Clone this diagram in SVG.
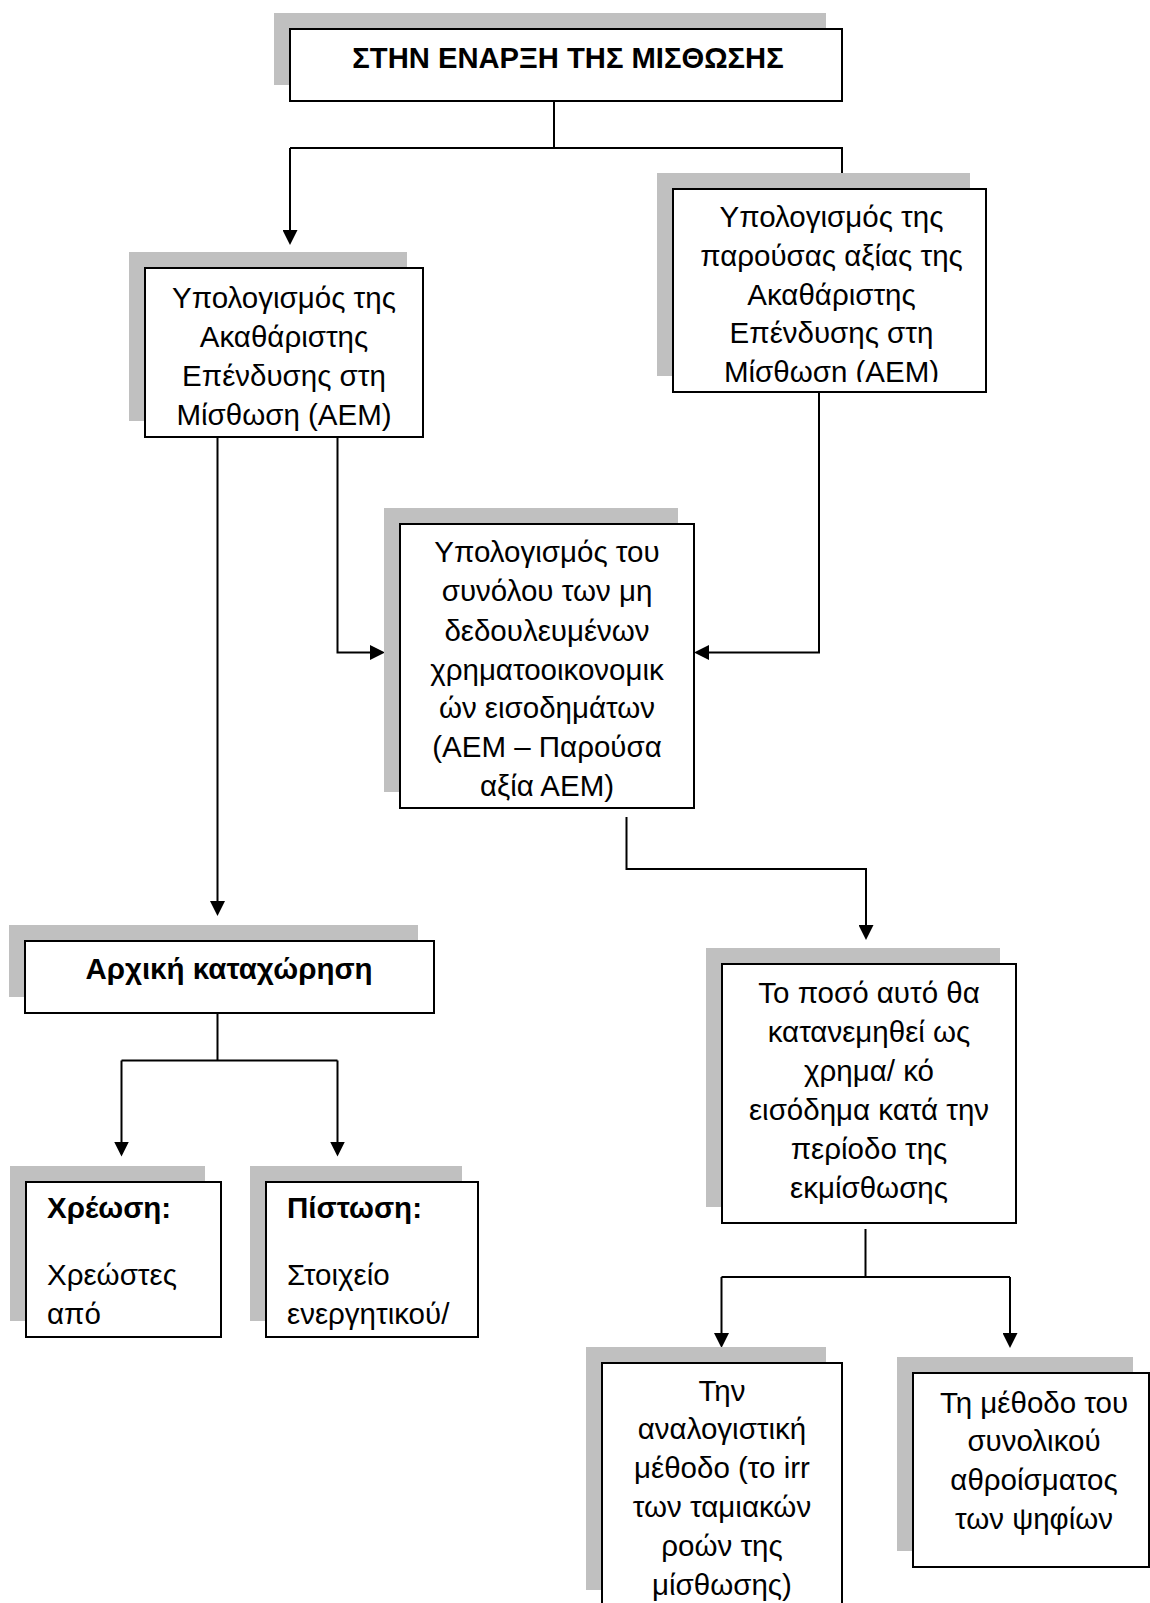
<svg xmlns="http://www.w3.org/2000/svg" width="1150" height="1603" viewBox="0 0 1150 1603">
<defs>
<marker id="arr" viewBox="0 0 15 15" refX="12" refY="7.5" markerWidth="15" markerHeight="15" markerUnits="userSpaceOnUse" orient="auto">
<path d="M0,0 L15,7.5 L0,15 z" fill="#000"/>
</marker>
<clipPath id="clipN3"><rect x="673" y="189" width="313" height="193"/></clipPath>
</defs>
<style>
.sh{fill:#c0c0c0;stroke:none}
.bx{fill:#fff;stroke:#000;stroke-width:2}
.t{font-family:"Liberation Sans",Arial,sans-serif;font-size:29.5px;fill:#000}
.c{text-anchor:middle}
.b{font-weight:bold}
.ln{fill:none;stroke:#000;stroke-width:2}
</style>
<rect width="1150" height="1603" fill="#fff"/>

<g id="connectors">
<path class="ln" d="M554,101 V148 M290,148 H842 V189"/>
<path class="ln" d="M290,148 V242" marker-end="url(#arr)"/>
<path class="ln" d="M217.5,437 V913" marker-end="url(#arr)"/>
<path class="ln" d="M337.5,437 V652.5 H382" marker-end="url(#arr)"/>
<path class="ln" d="M819,392 V652.5 H697" marker-end="url(#arr)"/>
<path class="ln" d="M626.5,817 V869 H866 V937" marker-end="url(#arr)"/>
<path class="ln" d="M217.5,1013 V1060.5 M121.5,1060.5 H337.5"/>
<path class="ln" d="M121.5,1060.5 V1153.5" marker-end="url(#arr)"/>
<path class="ln" d="M337.5,1060.5 V1153.5" marker-end="url(#arr)"/>
<path class="ln" d="M865.5,1229 V1277 M721.5,1277 H1010"/>
<path class="ln" d="M721.5,1277 V1345" marker-end="url(#arr)"/>
<path class="ln" d="M1010,1277 V1345" marker-end="url(#arr)"/>
</g>

<g id="n1">
<rect class="sh" x="274" y="13" width="552" height="72"/>
<rect class="bx" x="290" y="29" width="552" height="72"/>
<text class="t c b" x="568" y="68" style="font-size:29.2px">ΣΤΗΝ ΕΝΑΡΞΗ ΤΗΣ ΜΙΣΘΩΣΗΣ</text>
</g>

<g id="n2">
<rect class="sh" x="129" y="252" width="278" height="169"/>
<rect class="bx" x="145" y="268" width="278" height="169"/>
<text class="t c" x="284" y="308">Υπολογισμός της</text>
<text class="t c" x="284" y="346.9">Ακαθάριστης</text>
<text class="t c" x="284" y="385.8">Επένδυσης στη</text>
<text class="t c" x="284" y="424.7">Μίσθωση (ΑΕΜ)</text>
</g>

<g id="n3">
<rect class="sh" x="657" y="173" width="313" height="203"/>
<rect class="bx" x="673" y="189" width="313" height="203"/>
<g clip-path="url(#clipN3)">
<text class="t c" x="831.5" y="226.7">Υπολογισμός της</text>
<text class="t c" x="831.5" y="265.6">παρούσας αξίας της</text>
<text class="t c" x="831.5" y="304.5">Ακαθάριστης</text>
<text class="t c" x="831.5" y="343.4">Επένδυσης στη</text>
<text class="t c" x="831.5" y="382">Μίσθωση (ΑΕΜ)</text>
</g>
</g>

<g id="n4">
<rect class="sh" x="384" y="508" width="294" height="284"/>
<rect class="bx" x="400" y="524" width="294" height="284"/>
<text class="t c" x="547" y="562.3">Υπολογισμός του</text>
<text class="t c" x="547" y="601.4">συνόλου των μη</text>
<text class="t c" x="547" y="640.5">δεδουλευμένων</text>
<text class="t c" x="547" y="679.5">χρηματοοικονομικ</text>
<text class="t c" x="547" y="718.4">ών εισοδημάτων</text>
<text class="t c" x="547" y="757">(ΑΕΜ – Παρούσα</text>
<text class="t c" x="547" y="795.7">αξία ΑΕΜ)</text>
</g>

<g id="n5">
<rect class="sh" x="9" y="925" width="409" height="72"/>
<rect class="bx" x="25" y="941" width="409" height="72"/>
<text class="t c b" x="229" y="979">Αρχική καταχώρηση</text>
</g>

<g id="n6">
<rect class="sh" x="10" y="1166" width="195" height="155"/>
<rect class="bx" x="26" y="1182" width="195" height="155"/>
<text class="t b" x="47" y="1218">Χρέωση:</text>
<text class="t" x="47" y="1285">Χρεώστες</text>
<text class="t" x="47" y="1323.5">από</text>
</g>

<g id="n7">
<rect class="sh" x="250" y="1166" width="212" height="155"/>
<rect class="bx" x="266" y="1182" width="212" height="155"/>
<text class="t b" x="287" y="1218">Πίστωση:</text>
<text class="t" x="287" y="1285">Στοιχείο</text>
<text class="t" x="287" y="1323.5">ενεργητικού/</text>
</g>

<g id="n8">
<rect class="sh" x="706" y="948" width="294" height="259"/>
<rect class="bx" x="722" y="964" width="294" height="259"/>
<text class="t c" x="869" y="1003">Το ποσό αυτό θα</text>
<text class="t c" x="869" y="1042.2">κατανεμηθεί ως</text>
<text class="t c" x="869" y="1081.2">χρημα/ κό</text>
<text class="t c" x="869" y="1120.2">εισόδημα κατά την</text>
<text class="t c" x="869" y="1158.8">περίοδο της</text>
<text class="t c" x="869" y="1197.5">εκμίσθωσης</text>
</g>

<g id="n9">
<rect class="sh" x="586" y="1347" width="240" height="243"/>
<rect class="bx" x="602" y="1363" width="240" height="243"/>
<text class="t c" x="722" y="1400.5">Την</text>
<text class="t c" x="722" y="1439.4">αναλογιστική</text>
<text class="t c" x="722" y="1478.3">μέθοδο (το irr</text>
<text class="t c" x="722" y="1517.2">των ταμιακών</text>
<text class="t c" x="722" y="1556.1">ροών της</text>
<text class="t c" x="722" y="1595">μίσθωσης)</text>
</g>

<g id="n10">
<rect class="sh" x="897" y="1357" width="236" height="194"/>
<rect class="bx" x="913" y="1373" width="236" height="194"/>
<text class="t c" x="1034" y="1412.5">Τη μέθοδο του</text>
<text class="t c" x="1034" y="1451.4">συνολικού</text>
<text class="t c" x="1034" y="1490.3">αθροίσματος</text>
<text class="t c" x="1034" y="1529.2">των ψηφίων</text>
</g>
</svg>
